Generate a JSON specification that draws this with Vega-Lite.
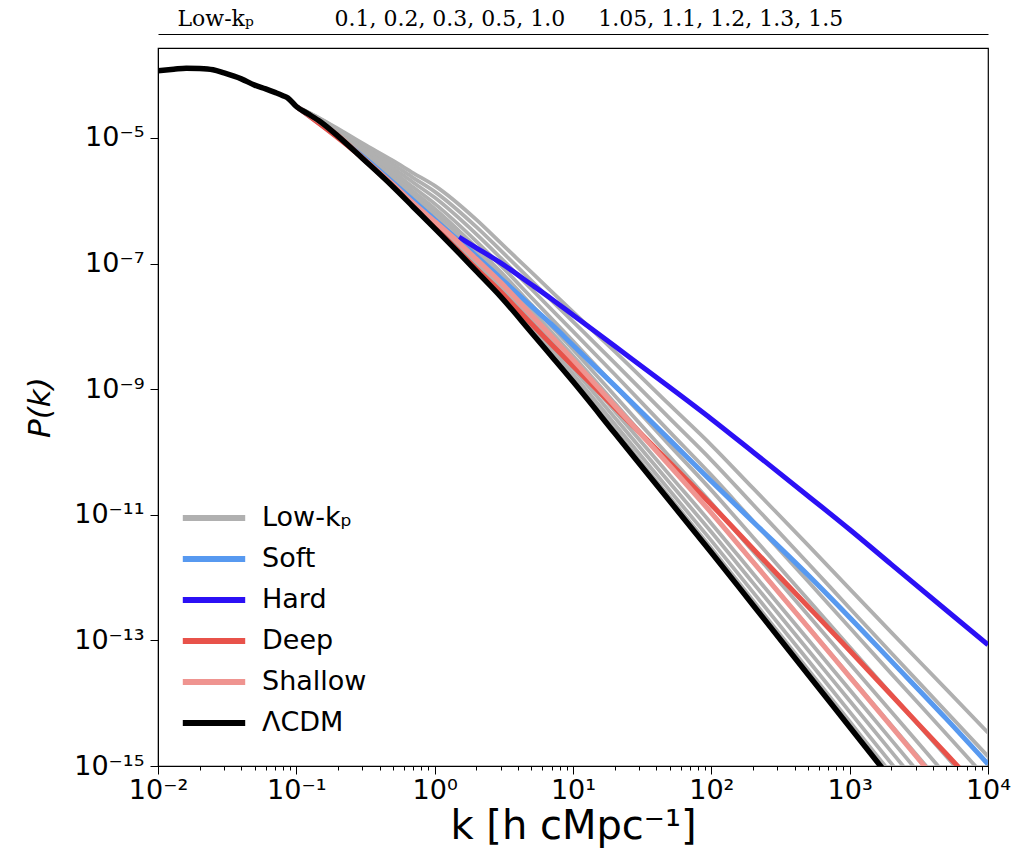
{
"$schema": "https://vega.github.io/schema/vega-lite/v6.json",
"width": 830, "height": 718,
"autosize": "none",
"padding": {"left": 158, "top": 48, "right": 41, "bottom": 86},
"background": "white",
"config": {"view": {"stroke": "#000", "strokeWidth": 1.2}, "font": "DejaVu Sans",
  "axis": {"domainColor": "#000", "tickColor": "#000", "labelColor": "#000", "titleColor": "#000", "grid": false}},
"datasets": {
"gray": [
{"model":"Low-kₚ","line":"kp1.5","k":0.1,"P":3.162e-5},{"model":"Low-kₚ","line":"kp1.5","k":0.15,"P":1.803e-5},{"model":"Low-kₚ","line":"kp1.5","k":0.2,"P":1.079e-5},{"model":"Low-kₚ","line":"kp1.5","k":0.3,"P":4.853e-6},{"model":"Low-kₚ","line":"kp1.5","k":0.5,"P":1.734e-6},{"model":"Low-kₚ","line":"kp1.5","k":0.7,"P":8.375e-7},{"model":"Low-kₚ","line":"kp1.5","k":1,"P":3.864e-7},{"model":"Low-kₚ","line":"kp1.5","k":2,"P":8.147e-8},{"model":"Low-kₚ","line":"kp1.5","k":3,"P":3.214e-8},{"model":"Low-kₚ","line":"kp1.5","k":5,"P":8.73e-9},{"model":"Low-kₚ","line":"kp1.5","k":10,"P":1.459e-9},{"model":"Low-kₚ","line":"kp1.5","k":20,"P":2.254e-10},{"model":"Low-kₚ","line":"kp1.5","k":50,"P":1.901e-11},{"model":"Low-kₚ","line":"kp1.5","k":100,"P":2.938e-12},{"model":"Low-kₚ","line":"kp1.5","k":200,"P":4.335e-13},{"model":"Low-kₚ","line":"kp1.5","k":500,"P":3.459e-14},{"model":"Low-kₚ","line":"kp1.5","k":1000,"P":5.105e-15},{"model":"Low-kₚ","line":"kp1.5","k":2000,"P":7.534e-16},
{"model":"Low-kₚ","line":"kp1.3","k":0.1,"P":3.162e-5},{"model":"Low-kₚ","line":"kp1.3","k":0.15,"P":1.816e-5},{"model":"Low-kₚ","line":"kp1.3","k":0.2,"P":1.099e-5},{"model":"Low-kₚ","line":"kp1.3","k":0.3,"P":5.035e-6},{"model":"Low-kₚ","line":"kp1.3","k":0.5,"P":1.854e-6},{"model":"Low-kₚ","line":"kp1.3","k":0.7,"P":9.12e-7},{"model":"Low-kₚ","line":"kp1.3","k":1,"P":4.315e-7},{"model":"Low-kₚ","line":"kp1.3","k":2,"P":9.29e-8},{"model":"Low-kₚ","line":"kp1.3","k":3,"P":3.69e-8},{"model":"Low-kₚ","line":"kp1.3","k":5,"P":1.021e-8},{"model":"Low-kₚ","line":"kp1.3","k":10,"P":1.746e-9},{"model":"Low-kₚ","line":"kp1.3","k":20,"P":2.78e-10},{"model":"Low-kₚ","line":"kp1.3","k":50,"P":2.432e-11},{"model":"Low-kₚ","line":"kp1.3","k":100,"P":3.873e-12},{"model":"Low-kₚ","line":"kp1.3","k":200,"P":5.861e-13},{"model":"Low-kₚ","line":"kp1.3","k":500,"P":4.831e-14},{"model":"Low-kₚ","line":"kp1.3","k":1000,"P":7.278e-15},{"model":"Low-kₚ","line":"kp1.3","k":2000,"P":1.099e-15},{"model":"Low-kₚ","line":"kp1.3","k":5000,"P":9.099e-17},
{"model":"Low-kₚ","line":"kp1.2","k":0.1,"P":3.162e-5},{"model":"Low-kₚ","line":"kp1.2","k":0.15,"P":1.832e-5},{"model":"Low-kₚ","line":"kp1.2","k":0.2,"P":1.125e-5},{"model":"Low-kₚ","line":"kp1.2","k":0.3,"P":5.272e-6},{"model":"Low-kₚ","line":"kp1.2","k":0.5,"P":2.0e-6},{"model":"Low-kₚ","line":"kp1.2","k":0.7,"P":1.009e-6},{"model":"Low-kₚ","line":"kp1.2","k":1,"P":4.887e-7},{"model":"Low-kₚ","line":"kp1.2","k":2,"P":1.081e-7},{"model":"Low-kₚ","line":"kp1.2","k":3,"P":4.315e-8},{"model":"Low-kₚ","line":"kp1.2","k":5,"P":1.216e-8},{"model":"Low-kₚ","line":"kp1.2","k":10,"P":2.143e-9},{"model":"Low-kₚ","line":"kp1.2","k":20,"P":3.532e-10},{"model":"Low-kₚ","line":"kp1.2","k":50,"P":3.228e-11},{"model":"Low-kₚ","line":"kp1.2","k":100,"P":5.309e-12},{"model":"Low-kₚ","line":"kp1.2","k":200,"P":8.241e-13},{"model":"Low-kₚ","line":"kp1.2","k":500,"P":7.047e-14},{"model":"Low-kₚ","line":"kp1.2","k":1000,"P":1.091e-14},{"model":"Low-kₚ","line":"kp1.2","k":2000,"P":1.694e-15},{"model":"Low-kₚ","line":"kp1.2","k":5000,"P":1.455e-16},
{"model":"Low-kₚ","line":"kp1.1","k":0.1,"P":3.162e-5},{"model":"Low-kₚ","line":"kp1.1","k":0.15,"P":1.849e-5},{"model":"Low-kₚ","line":"kp1.1","k":0.2,"P":1.148e-5},{"model":"Low-kₚ","line":"kp1.1","k":0.3,"P":5.508e-6},{"model":"Low-kₚ","line":"kp1.1","k":0.5,"P":2.158e-6},{"model":"Low-kₚ","line":"kp1.1","k":0.7,"P":1.114e-6},{"model":"Low-kₚ","line":"kp1.1","k":1,"P":5.546e-7},{"model":"Low-kₚ","line":"kp1.1","k":2,"P":1.256e-7},{"model":"Low-kₚ","line":"kp1.1","k":3,"P":5.058e-8},{"model":"Low-kₚ","line":"kp1.1","k":5,"P":1.452e-8},{"model":"Low-kₚ","line":"kp1.1","k":10,"P":2.63e-9},{"model":"Low-kₚ","line":"kp1.1","k":20,"P":4.487e-10},{"model":"Low-kₚ","line":"kp1.1","k":50,"P":4.276e-11},{"model":"Low-kₚ","line":"kp1.1","k":100,"P":7.278e-12},{"model":"Low-kₚ","line":"kp1.1","k":200,"P":1.161e-12},{"model":"Low-kₚ","line":"kp1.1","k":500,"P":1.03e-13},{"model":"Low-kₚ","line":"kp1.1","k":1000,"P":1.637e-14},{"model":"Low-kₚ","line":"kp1.1","k":2000,"P":2.606e-15},{"model":"Low-kₚ","line":"kp1.1","k":5000,"P":2.323e-16},
{"model":"Low-kₚ","line":"kp1.05","k":0.1,"P":3.162e-5},{"model":"Low-kₚ","line":"kp1.05","k":0.15,"P":1.871e-5},{"model":"Low-kₚ","line":"kp1.05","k":0.2,"P":1.18e-5},{"model":"Low-kₚ","line":"kp1.05","k":0.3,"P":5.821e-6},{"model":"Low-kₚ","line":"kp1.05","k":0.5,"P":2.377e-6},{"model":"Low-kₚ","line":"kp1.05","k":0.7,"P":1.262e-6},{"model":"Low-kₚ","line":"kp1.05","k":1,"P":6.486e-7},{"model":"Low-kₚ","line":"kp1.05","k":2,"P":1.517e-7},{"model":"Low-kₚ","line":"kp1.05","k":3,"P":6.152e-8},{"model":"Low-kₚ","line":"kp1.05","k":5,"P":1.811e-8},{"model":"Low-kₚ","line":"kp1.05","k":10,"P":3.396e-9},{"model":"Low-kₚ","line":"kp1.05","k":20,"P":6.053e-10},{"model":"Low-kₚ","line":"kp1.05","k":50,"P":6.081e-11},{"model":"Low-kₚ","line":"kp1.05","k":100,"P":1.079e-11},{"model":"Low-kₚ","line":"kp1.05","k":200,"P":1.782e-12},{"model":"Low-kₚ","line":"kp1.05","k":500,"P":1.656e-13},{"model":"Low-kₚ","line":"kp1.05","k":1000,"P":2.716e-14},{"model":"Low-kₚ","line":"kp1.05","k":2000,"P":4.477e-15},{"model":"Low-kₚ","line":"kp1.05","k":5000,"P":4.169e-16},
{"model":"Low-kₚ","line":"kp1.0","k":0.1,"P":3.162e-5},{"model":"Low-kₚ","line":"kp1.0","k":0.15,"P":1.892e-5},{"model":"Low-kₚ","line":"kp1.0","k":0.2,"P":1.211e-5},{"model":"Low-kₚ","line":"kp1.0","k":0.3,"P":6.109e-6},{"model":"Low-kₚ","line":"kp1.0","k":0.5,"P":2.588e-6},{"model":"Low-kₚ","line":"kp1.0","k":0.7,"P":1.409e-6},{"model":"Low-kₚ","line":"kp1.0","k":1,"P":7.464e-7},{"model":"Low-kₚ","line":"kp1.0","k":2,"P":1.799e-7},{"model":"Low-kₚ","line":"kp1.0","k":3,"P":7.345e-8},{"model":"Low-kₚ","line":"kp1.0","k":5,"P":2.213e-8},{"model":"Low-kₚ","line":"kp1.0","k":10,"P":4.276e-9},{"model":"Low-kₚ","line":"kp1.0","k":20,"P":7.925e-10},{"model":"Low-kₚ","line":"kp1.0","k":50,"P":8.356e-11},{"model":"Low-kₚ","line":"kp1.0","k":100,"P":1.538e-11},{"model":"Low-kₚ","line":"kp1.0","k":200,"P":2.624e-12},{"model":"Low-kₚ","line":"kp1.0","k":500,"P":2.541e-13},{"model":"Low-kₚ","line":"kp1.0","k":1000,"P":4.285e-14},{"model":"Low-kₚ","line":"kp1.0","k":2000,"P":7.278e-15},{"model":"Low-kₚ","line":"kp1.0","k":5000,"P":7.047e-16},
{"model":"Low-kₚ","line":"kp0.5","k":0.1,"P":3.162e-5},{"model":"Low-kₚ","line":"kp0.5","k":0.15,"P":1.919e-5},{"model":"Low-kₚ","line":"kp0.5","k":0.2,"P":1.253e-5},{"model":"Low-kₚ","line":"kp0.5","k":0.3,"P":6.531e-6},{"model":"Low-kₚ","line":"kp0.5","k":0.5,"P":2.904e-6},{"model":"Low-kₚ","line":"kp0.5","k":0.7,"P":1.637e-6},{"model":"Low-kₚ","line":"kp0.5","k":1,"P":8.995e-7},{"model":"Low-kₚ","line":"kp0.5","k":2,"P":2.259e-7},{"model":"Low-kₚ","line":"kp0.5","k":3,"P":9.311e-8},{"model":"Low-kₚ","line":"kp0.5","k":5,"P":2.884e-8},{"model":"Low-kₚ","line":"kp0.5","k":10,"P":5.808e-9},{"model":"Low-kₚ","line":"kp0.5","k":20,"P":1.135e-9},{"model":"Low-kₚ","line":"kp0.5","k":50,"P":1.274e-10},{"model":"Low-kₚ","line":"kp0.5","k":100,"P":2.466e-11},{"model":"Low-kₚ","line":"kp0.5","k":200,"P":4.385e-12},{"model":"Low-kₚ","line":"kp0.5","k":500,"P":4.487e-13},{"model":"Low-kₚ","line":"kp0.5","k":1000,"P":7.87e-14},{"model":"Low-kₚ","line":"kp0.5","k":2000,"P":1.39e-14},{"model":"Low-kₚ","line":"kp0.5","k":5000,"P":1.422e-15},{"model":"Low-kₚ","line":"kp0.5","k":10000,"P":2.512e-16},
{"model":"Low-kₚ","line":"kp0.3","k":0.1,"P":3.162e-5},{"model":"Low-kₚ","line":"kp0.3","k":0.15,"P":1.95e-5},{"model":"Low-kₚ","line":"kp0.3","k":0.2,"P":1.3e-5},{"model":"Low-kₚ","line":"kp0.3","k":0.3,"P":7.063e-6},{"model":"Low-kₚ","line":"kp0.3","k":0.5,"P":3.319e-6},{"model":"Low-kₚ","line":"kp0.3","k":0.7,"P":1.95e-6},{"model":"Low-kₚ","line":"kp0.3","k":1,"P":1.122e-6},{"model":"Low-kₚ","line":"kp0.3","k":2,"P":2.938e-7},{"model":"Low-kₚ","line":"kp0.3","k":3,"P":1.227e-7},{"model":"Low-kₚ","line":"kp0.3","k":5,"P":3.926e-8},{"model":"Low-kₚ","line":"kp0.3","k":10,"P":8.299e-9},{"model":"Low-kₚ","line":"kp0.3","k":20,"P":1.726e-9},{"model":"Low-kₚ","line":"kp0.3","k":50,"P":2.089e-10},{"model":"Low-kₚ","line":"kp0.3","k":100,"P":4.276e-11},{"model":"Low-kₚ","line":"kp0.3","k":200,"P":7.98e-12},{"model":"Low-kₚ","line":"kp0.3","k":500,"P":8.71e-13},{"model":"Low-kₚ","line":"kp0.3","k":1000,"P":1.6e-13},{"model":"Low-kₚ","line":"kp0.3","k":2000,"P":2.958e-14},{"model":"Low-kₚ","line":"kp0.3","k":5000,"P":3.228e-15},{"model":"Low-kₚ","line":"kp0.3","k":10000,"P":5.984e-16},
{"model":"Low-kₚ","line":"kp0.2","k":0.1,"P":3.162e-5},{"model":"Low-kₚ","line":"kp0.2","k":0.15,"P":1.982e-5},{"model":"Low-kₚ","line":"kp0.2","k":0.2,"P":1.352e-5},{"model":"Low-kₚ","line":"kp0.2","k":0.3,"P":7.621e-6},{"model":"Low-kₚ","line":"kp0.2","k":0.5,"P":3.793e-6},{"model":"Low-kₚ","line":"kp0.2","k":0.7,"P":2.317e-6},{"model":"Low-kₚ","line":"kp0.2","k":1,"P":1.396e-6},{"model":"Low-kₚ","line":"kp0.2","k":2,"P":3.828e-7},{"model":"Low-kₚ","line":"kp0.2","k":3,"P":1.614e-7},{"model":"Low-kₚ","line":"kp0.2","k":5,"P":5.358e-8},{"model":"Low-kₚ","line":"kp0.2","k":10,"P":1.189e-8},{"model":"Low-kₚ","line":"kp0.2","k":20,"P":2.624e-9},{"model":"Low-kₚ","line":"kp0.2","k":50,"P":3.42e-10},{"model":"Low-kₚ","line":"kp0.2","k":100,"P":7.43e-11},{"model":"Low-kₚ","line":"kp0.2","k":200,"P":1.455e-11},{"model":"Low-kₚ","line":"kp0.2","k":500,"P":1.694e-12},{"model":"Low-kₚ","line":"kp0.2","k":1000,"P":3.251e-13},{"model":"Low-kₚ","line":"kp0.2","k":2000,"P":6.31e-14},{"model":"Low-kₚ","line":"kp0.2","k":5000,"P":7.311e-15},{"model":"Low-kₚ","line":"kp0.2","k":10000,"P":1.422e-15},
{"model":"Low-kₚ","line":"kp0.1","k":0.1,"P":3.162e-5},{"model":"Low-kₚ","line":"kp0.1","k":0.15,"P":2.014e-5},{"model":"Low-kₚ","line":"kp0.1","k":0.2,"P":1.406e-5},{"model":"Low-kₚ","line":"kp0.1","k":0.3,"P":8.241e-6},{"model":"Low-kₚ","line":"kp0.1","k":0.5,"P":4.335e-6},{"model":"Low-kₚ","line":"kp0.1","k":0.7,"P":2.761e-6},{"model":"Low-kₚ","line":"kp0.1","k":1,"P":1.738e-6},{"model":"Low-kₚ","line":"kp0.1","k":2,"P":4.989e-7},{"model":"Low-kₚ","line":"kp0.1","k":3,"P":2.128e-7},{"model":"Low-kₚ","line":"kp0.1","k":5,"P":7.295e-8},{"model":"Low-kₚ","line":"kp0.1","k":10,"P":1.698e-8},{"model":"Low-kₚ","line":"kp0.1","k":20,"P":3.99e-9},{"model":"Low-kₚ","line":"kp0.1","k":50,"P":5.598e-10},{"model":"Low-kₚ","line":"kp0.1","k":100,"P":1.288e-10},{"model":"Low-kₚ","line":"kp0.1","k":200,"P":2.649e-11},{"model":"Low-kₚ","line":"kp0.1","k":500,"P":3.289e-12},{"model":"Low-kₚ","line":"kp0.1","k":1000,"P":6.607e-13},{"model":"Low-kₚ","line":"kp0.1","k":2000,"P":1.343e-13},{"model":"Low-kₚ","line":"kp0.1","k":5000,"P":1.66e-14},{"model":"Low-kₚ","line":"kp0.1","k":10000,"P":3.388e-15}
],
"colored": [
{"model":"Soft","line":"Soft","k":0.1,"P":3.162e-5},{"model":"Soft","line":"Soft","k":0.3,"P":5.129e-6},{"model":"Soft","line":"Soft","k":1,"P":5.012e-7},{"model":"Soft","line":"Soft","k":2,"P":1.318e-7},{"model":"Soft","line":"Soft","k":3,"P":5.834e-8},{"model":"Soft","line":"Soft","k":5,"P":2.089e-8},{"model":"Soft","line":"Soft","k":7,"P":1.072e-8},{"model":"Soft","line":"Soft","k":10,"P":5.012e-9},{"model":"Soft","line":"Soft","k":20,"P":1.138e-9},{"model":"Soft","line":"Soft","k":50,"P":1.556e-10},{"model":"Soft","line":"Soft","k":100,"P":3.428e-11},{"model":"Soft","line":"Soft","k":200,"P":7.762e-12},{"model":"Soft","line":"Soft","k":500,"P":1.096e-12},{"model":"Soft","line":"Soft","k":1000,"P":2.317e-13},{"model":"Soft","line":"Soft","k":2000,"P":4.677e-14},{"model":"Soft","line":"Soft","k":5000,"P":5.623e-15},{"model":"Soft","line":"Soft","k":10000,"P":1.072e-15},
{"model":"Hard","line":"Hard","k":1.5,"P":2.63e-7},{"model":"Hard","line":"Hard","k":2,"P":1.778e-7},{"model":"Hard","line":"Hard","k":3,"P":1.023e-7},{"model":"Hard","line":"Hard","k":5,"P":4.634e-8},{"model":"Hard","line":"Hard","k":7,"P":2.723e-8},{"model":"Hard","line":"Hard","k":10,"P":1.514e-8},{"model":"Hard","line":"Hard","k":20,"P":4.842e-9},{"model":"Hard","line":"Hard","k":50,"P":1.072e-9},{"model":"Hard","line":"Hard","k":100,"P":3.357e-10},{"model":"Hard","line":"Hard","k":200,"P":1.0e-10},{"model":"Hard","line":"Hard","k":500,"P":1.995e-11},{"model":"Hard","line":"Hard","k":1000,"P":5.821e-12},{"model":"Hard","line":"Hard","k":2000,"P":1.622e-12},{"model":"Hard","line":"Hard","k":5000,"P":3.02e-13},{"model":"Hard","line":"Hard","k":10000,"P":8.51e-14},
{"model":"Deep","line":"Deep","k":0.1,"P":3.162e-5},{"model":"Deep","line":"Deep","k":0.3,"P":4.786e-6},{"model":"Deep","line":"Deep","k":0.5,"P":1.698e-6},{"model":"Deep","line":"Deep","k":1,"P":3.802e-7},{"model":"Deep","line":"Deep","k":2,"P":8.318e-8},{"model":"Deep","line":"Deep","k":3,"P":3.548e-8},{"model":"Deep","line":"Deep","k":5,"P":1.096e-8},{"model":"Deep","line":"Deep","k":7,"P":5.129e-9},{"model":"Deep","line":"Deep","k":10,"P":2.344e-9},{"model":"Deep","line":"Deep","k":20,"P":5.129e-10},{"model":"Deep","line":"Deep","k":50,"P":6.761e-11},{"model":"Deep","line":"Deep","k":100,"P":1.445e-11},{"model":"Deep","line":"Deep","k":200,"P":2.884e-12},{"model":"Deep","line":"Deep","k":500,"P":3.467e-13},{"model":"Deep","line":"Deep","k":1000,"P":6.918e-14},{"model":"Deep","line":"Deep","k":2000,"P":1.349e-14},{"model":"Deep","line":"Deep","k":5000,"P":1.549e-15},{"model":"Deep","line":"Deep","k":10000,"P":3.02e-16},
{"model":"Shallow","line":"Shallow","k":0.1,"P":3.162e-5},{"model":"Shallow","line":"Shallow","k":0.2,"P":1.096e-5},{"model":"Shallow","line":"Shallow","k":0.3,"P":4.898e-6},{"model":"Shallow","line":"Shallow","k":0.5,"P":1.82e-6},{"model":"Shallow","line":"Shallow","k":0.7,"P":9.12e-7},{"model":"Shallow","line":"Shallow","k":1,"P":4.677e-7},{"model":"Shallow","line":"Shallow","k":1.5,"P":2.138e-7},{"model":"Shallow","line":"Shallow","k":2,"P":1.175e-7},{"model":"Shallow","line":"Shallow","k":3,"P":5.012e-8},{"model":"Shallow","line":"Shallow","k":5,"P":1.514e-8},{"model":"Shallow","line":"Shallow","k":7,"P":6.918e-9},{"model":"Shallow","line":"Shallow","k":10,"P":2.951e-9},{"model":"Shallow","line":"Shallow","k":20,"P":5.495e-10},{"model":"Shallow","line":"Shallow","k":50,"P":6.026e-11},{"model":"Shallow","line":"Shallow","k":100,"P":1.072e-11},{"model":"Shallow","line":"Shallow","k":200,"P":1.778e-12},{"model":"Shallow","line":"Shallow","k":500,"P":1.622e-13},{"model":"Shallow","line":"Shallow","k":1000,"P":2.63e-14},{"model":"Shallow","line":"Shallow","k":2000,"P":4.266e-15},{"model":"Shallow","line":"Shallow","k":5000,"P":3.802e-16}
],
"lcdm": [
{"model":"ΛCDM","line":"ΛCDM","k":0.01,"P":1.175e-4},{"model":"ΛCDM","line":"ΛCDM","k":0.013,"P":1.239e-4},{"model":"ΛCDM","line":"ΛCDM","k":0.016,"P":1.288e-4},{"model":"ΛCDM","line":"ΛCDM","k":0.02,"P":1.274e-4},{"model":"ΛCDM","line":"ΛCDM","k":0.025,"P":1.216e-4},{"model":"ΛCDM","line":"ΛCDM","k":0.03,"P":1.084e-4},{"model":"ΛCDM","line":"ΛCDM","k":0.04,"P":8.71e-5},{"model":"ΛCDM","line":"ΛCDM","k":0.05,"P":6.92e-5},{"model":"ΛCDM","line":"ΛCDM","k":0.06,"P":6.03e-5},{"model":"ΛCDM","line":"ΛCDM","k":0.07,"P":5.3e-5},{"model":"ΛCDM","line":"ΛCDM","k":0.08,"P":4.7e-5},{"model":"ΛCDM","line":"ΛCDM","k":0.087,"P":4.3e-5},{"model":"ΛCDM","line":"ΛCDM","k":0.1,"P":3.16e-5},{"model":"ΛCDM","line":"ΛCDM","k":0.12,"P":2.455e-5},{"model":"ΛCDM","line":"ΛCDM","k":0.15,"P":1.795e-5},{"model":"ΛCDM","line":"ΛCDM","k":0.2,"P":1.067e-5},{"model":"ΛCDM","line":"ΛCDM","k":0.3,"P":4.74e-6},{"model":"ΛCDM","line":"ΛCDM","k":0.5,"P":1.667e-6},{"model":"ΛCDM","line":"ΛCDM","k":0.7,"P":7.96e-7},{"model":"ΛCDM","line":"ΛCDM","k":1,"P":3.63e-7},{"model":"ΛCDM","line":"ΛCDM","k":1.5,"P":1.462e-7},{"model":"ΛCDM","line":"ΛCDM","k":2,"P":7.55e-8},{"model":"ΛCDM","line":"ΛCDM","k":3,"P":2.97e-8},{"model":"ΛCDM","line":"ΛCDM","k":5,"P":8.0e-9},{"model":"ΛCDM","line":"ΛCDM","k":7,"P":3.33e-9},{"model":"ΛCDM","line":"ΛCDM","k":10,"P":1.318e-9},{"model":"ΛCDM","line":"ΛCDM","k":20,"P":2.0e-10},{"model":"ΛCDM","line":"ΛCDM","k":50,"P":1.652e-11},{"model":"ΛCDM","line":"ΛCDM","k":100,"P":2.512e-12},{"model":"ΛCDM","line":"ΛCDM","k":200,"P":3.66e-13},{"model":"ΛCDM","line":"ΛCDM","k":500,"P":2.864e-14},{"model":"ΛCDM","line":"ΛCDM","k":1000,"P":4.17e-15},{"model":"ΛCDM","line":"ΛCDM","k":2000,"P":6.07e-16}
]
},
"layer": [
{
 "data": {"name": "gray"},
 "mark": {"type": "line", "strokeWidth": 3.8, "clip": true, "interpolate": "monotone"},
 "encoding": {
  "x": {"field": "k", "type": "quantitative",
   "scale": {"type": "log", "domain": [0.01, 10000], "nice": false},
   "axis": {"orient": "bottom",
    "values": [0.01,0.02,0.03,0.04,0.05,0.06,0.07,0.08,0.09,0.1,0.2,0.3,0.4,0.5,0.6,0.7,0.8,0.9,1,2,3,4,5,6,7,8,9,10,20,30,40,50,60,70,80,90,100,200,300,400,500,600,700,800,900,1000,2000,3000,4000,5000,6000,7000,8000,9000,10000],
    "labelExpr": "abs(log(datum.value)/LN10 - round(log(datum.value)/LN10)) > 0.01 ? '' : ['10⁻²','10⁻¹','10⁰','10¹','10²','10³','10⁴'][round(log(datum.value)/LN10)+2]",
    "tickSize": {"condition": {"test": "abs(log(datum.value)/LN10 - round(log(datum.value)/LN10)) > 0.01", "value": 4}, "value": 8},
    "labelFontSize": 27, "labelPadding": 3, "labelOverlap": false, "labelFlush": false, "labelBound": false,
    "title": "k [h cMpc⁻¹]", "titleFontSize": 40, "titleFontWeight": "normal", "titlePadding": 3}},
  "y": {"field": "P", "type": "quantitative",
   "scale": {"type": "log", "domain": [1e-15, 2.7e-4], "nice": false},
   "axis": {"values": [1e-15,1e-13,1e-11,1e-9,1e-7,1e-5],
    "labelExpr": "['10⁻¹⁵','','10⁻¹³','','10⁻¹¹','','10⁻⁹','','10⁻⁷','','10⁻⁵'][round(log(datum.value)/LN10)+15]",
    "tickSize": 8, "labelFontSize": 27, "labelPadding": 6, "labelOverlap": false,
    "title": "P(k)", "titleFontSize": 31, "titleFontWeight": "normal", "titleFontStyle": "italic", "titlePadding": 17}},
  "color": {"field": "model", "type": "nominal",
   "scale": {"domain": ["Low-kₚ", "Soft", "Hard", "Deep", "Shallow", "ΛCDM"],
             "range": ["#b0b0b0", "#5799f0", "#2b10f5", "#e8524a", "#ef9490", "#000000"]},
   "legend": {"orient": "none", "legendX": 29, "legendY": 443, "title": null, "padding": 0,
    "symbolType": "M-1.3,0H1.3", "symbolSize": 2304, "symbolStrokeWidth": 6,
    "labelFontSize": 27, "labelFont": "DejaVu Sans", "labelColor": "#000", "labelOffset": 21, "rowPadding": 1}},
  "detail": {"field": "line"}
 }
},
{
 "data": {"name": "colored"},
 "mark": {"type": "line", "strokeWidth": 5, "clip": true, "interpolate": "monotone"},
 "encoding": {
  "x": {"field": "k", "type": "quantitative", "axis": null},
  "y": {"field": "P", "type": "quantitative"},
  "color": {"field": "model", "type": "nominal"},
  "detail": {"field": "line"}
 }
},
{
 "data": {"name": "lcdm"},
 "mark": {"type": "line", "strokeWidth": 5.5, "clip": true, "interpolate": "monotone"},
 "encoding": {
  "x": {"field": "k", "type": "quantitative",
   "axis": {"orient": "top", "offset": 14, "ticks": false, "labels": false, "domain": true, "domainColor": "#000", "domainWidth": 1,
    "title": "Low-kₚ\u2003\u2003\u2003\u2002\u20060.1, 0.2, 0.3, 0.5, 1.0\u2003\u20021.05, 1.1, 1.2, 1.3, 1.5",
    "titleFont": "DejaVu Serif", "titleFontSize": 22, "titleFontWeight": "normal", "titleAnchor": "start", "titleAlign": "left",
    "titleX": 19, "titleY": -9, "titleBaseline": "alphabetic", "titleAngle": 0}},
  "y": {"field": "P", "type": "quantitative"},
  "color": {"field": "model", "type": "nominal"}
 }
}
],
"resolve": {"axis": {"x": "independent"}}
}
